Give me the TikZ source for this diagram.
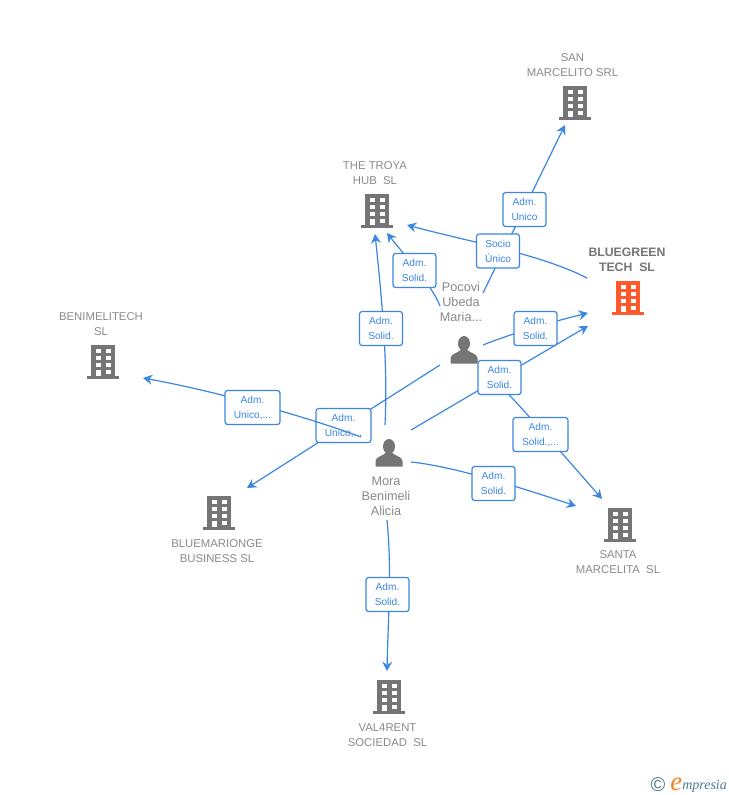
\documentclass[tikz,border=0pt]{standalone}
\usepackage{fontspec}
\setmainfont{Liberation Sans}
\newfontfamily\logofont{Liberation Serif}
\usetikzlibrary{arrows.meta}
\definecolor{edgeblue}{HTML}{3B86E2}
\definecolor{txtgray}{HTML}{8A8A8A}
\definecolor{icongray}{HTML}{757575}
\definecolor{iconorange}{HTML}{FF5A2B}
\definecolor{logoteal}{HTML}{4A7C8C}
\definecolor{logoorange}{HTML}{F58220}
\tikzset{
  x=0.75pt,y=-0.75pt,
  conn/.style={draw=edgeblue,line width=0.9pt,-{Stealth[length=7pt,width=7.5pt,inset=2.4pt]}},
  tagbox/.style={draw=edgeblue,line width=0.9pt,fill=white,rounded corners=2pt,text=edgeblue,
    minimum width=32.25pt,minimum height=25.5pt,inner sep=0pt,align=center,
    font=\fontsize{7.6}{11.25}\selectfont},
  tagwide/.style={tagbox,minimum width=41.25pt},
  company/.style={text=txtgray,align=center,inner sep=0pt,font=\fontsize{8.5}{11.25}\selectfont},
  maincompany/.style={company,text=txtgray!85!black,font=\fontsize{9.2}{11.25}\selectfont\bfseries},
  person/.style={text=txtgray,align=center,inner sep=0pt,font=\fontsize{9.5}{11.25}\selectfont},
  pics/building/.style={code={
    \fill[#1] (-12,-17) rectangle (12,14);
    \fill[#1] (-16,14) rectangle (16,17);
    \foreach \yy in {-13,-6,1}{
      \fill[white] (-7.5,\yy) rectangle (-2.5,\yy+4);
      \fill[white] (2.5,\yy) rectangle (7.5,\yy+4);}
    \fill[white] (-7.5,8) rectangle (-2.5,14);
    \fill[white] (2.5,8) rectangle (7.5,12);
  }},
  pics/personicon/.style={code={
    \fill[icongray] (0,-6.5) ellipse (6 and 7.5);
    \fill[icongray] (-13.5,13.5) -- (-13.5,8) .. controls (-13,3.5) and (-6,3) .. (-3.5,0)
      -- (3.5,0) .. controls (6,3) and (13,3.5) .. (13.5,8) -- (13.5,13.5) -- cycle;
  }}
}
\begin{document}
\begin{tikzpicture}
\useasboundingbox (0,0) rectangle (728,795);
\fill[white] (0,0) rectangle (728,795);

% anchors of the buildings and people
\coordinate (sanI) at (575,103);
\coordinate (troyaI) at (377,211);
\coordinate (blueI) at (628,298);
\coordinate (beniI) at (103,362);
\coordinate (marioI) at (219,513);
\coordinate (santaI) at (620,525);
\coordinate (valI) at (389,697);
\coordinate (pocoviI) at (464,350);
\coordinate (moraI) at (389,453);

% connector ends
\coordinate (p1) at (483,293);
\coordinate (e1) at (565,125);
\coordinate (b2) at (587,278);
\coordinate (e2) at (407,225);
\coordinate (p3) at (440,306);
\coordinate (e3) at (387,233);
\coordinate (m4) at (385,425);
\coordinate (e4) at (375,234);
\coordinate (m5) at (361,437);
\coordinate (e5) at (143,378);
\coordinate (p6) at (440,365);
\coordinate (e6) at (247,488);
\coordinate (p7) at (483,345);
\coordinate (e7) at (588,313);
\coordinate (m8) at (411,430);
\coordinate (e8) at (588,326);
\coordinate (p9) at (490,375);
\coordinate (e9) at (602,499);
\coordinate (m10) at (411,462);
\coordinate (e10) at (576,506);
\coordinate (m11) at (387,520);
\coordinate (e11) at (387,671);

% icons
\pic at (sanI) {building=icongray};
\pic at (troyaI) {building=icongray};
\pic at (blueI) {building=iconorange};
\pic at (beniI) {building=icongray};
\pic at (marioI) {building=icongray};
\pic at (santaI) {building=icongray};
\pic at (valI) {building=icongray};
\pic at (pocoviI) {personicon};
\pic at (moraI) {personicon};

% connectors under the tags
\draw[conn] (p1) -- (e1);
\draw[conn] (b2) .. controls (540,254) and (470,242) .. (e2);
\draw[conn] (p3) .. controls (432,285) and (405,256) .. (e3);
\draw[conn] (m4) .. controls (388,365) and (382,300) .. (e4);
\draw[conn] (p6) -- (e6);
\draw[conn] (p7) .. controls (510,334) and (555,321) .. (e7);
\draw[conn] (m8) -- (e8);
\draw[conn] (p9) .. controls (515,400) and (555,445) .. (e9);
\draw[conn] (m10) .. controls (450,466) and (510,484) .. (e10);
\draw[conn] (m11) .. controls (392,570) and (388,620) .. (e11);

% tags
\node[tagbox] (t1) at (524.5,209.5) {Adm.\\Unico};
\node[tagbox] (t2) at (498,251) {Socio\\Único};
\node[tagbox] (t3) at (414.5,270.5) {Adm.\\Solid.};
\node[tagbox] (t4) at (381,328.5) {Adm.\\Solid.};
\node[tagwide] (t6) at (343.5,425.5) {Adm.\\Unico,...};
\draw[conn] (m5) .. controls (310,418) and (220,392) .. (e5);
\node[tagwide] (t5) at (252.5,407.5) {Adm.\\Unico,...};
\node[tagbox] (t7) at (535.5,328.5) {Adm.\\Solid.};
\node[tagbox] (t8) at (499.5,377.5) {Adm.\\Solid.};
\node[tagwide] (t9) at (540.5,434.5) {Adm.\\Solid.,...};
\node[tagbox] (t10) at (493.5,483.5) {Adm.\\Solid.};
\node[tagbox] (t11) at (387.5,594.5) {Adm.\\Solid.};

% names
\node[company] (san) at (572.5,65) {SAN\\MARCELITO SRL};
\node[company] (troya) at (375,173) {THE TROYA\\HUB\ \ SL};
\node[maincompany] (blue) at (627,260) {BLUEGREEN\\TECH\ \ SL};
\node[company] (beni) at (101,324) {BENIMELITECH\\SL};
\node[company] (mario) at (217,551) {BLUEMARIONGE\\BUSINESS SL};
\node[company] (santa) at (618,562) {SANTA\\MARCELITA\ \ SL};
\node[company] (val) at (387.5,735) {VAL4RENT\\SOCIEDAD\ \ SL};
\node[person] (pocovi) at (461,302) {Pocovi\\Ubeda\\Maria...};
\node[person] (mora) at (386,496) {Mora\\Benimeli\\Alicia};

% logo
\node[inner sep=0pt,text=logoteal,font=\fontsize{15}{15}\selectfont] (copy) at (658,784.5) {©};
\node[inner sep=0pt,anchor=base west,text=logoorange,font=\logofont\itshape\fontsize{20}{20}\selectfont] (logoe) at (670,790) {e};
\node[inner sep=0pt,anchor=base west,text=logoteal,font=\logofont\itshape\fontsize{10.5}{10.5}\selectfont] (logot) at (682,789) {mpresia};
\end{tikzpicture}
\end{document}
